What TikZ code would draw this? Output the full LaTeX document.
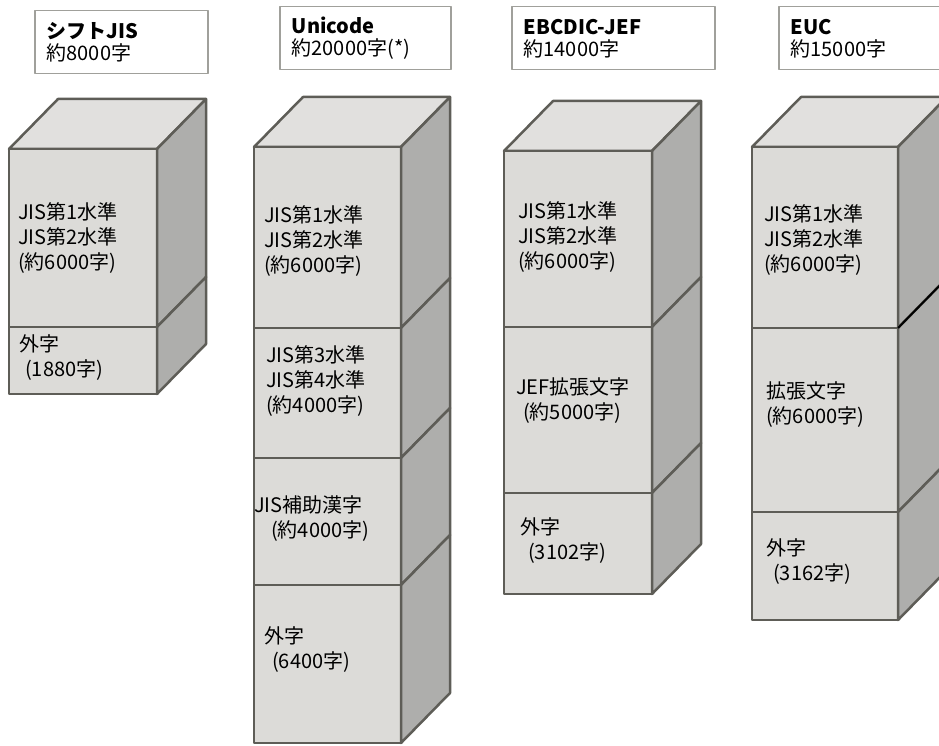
\documentclass[tikz,border=0pt]{standalone}
\usepackage{fontspec}
\setmainfont{Noto Sans CJK JP}
\usetikzlibrary{calc,positioning}
\definecolor{edge}{RGB}{94,93,87}
\definecolor{frontface}{RGB}{220,219,216}
\definecolor{topface}{RGB}{225,224,222}
\definecolor{sideface}{RGB}{174,174,172}
\definecolor{frame}{RGB}{160,160,155}

% one layer of a column: left x, right x, upper y, lower y
\newcommand{\slab}[4]{%
  \draw[face, fill=frontface] (#1,#3) rectangle (#2,#4);
  \draw[face, fill=sideface] (#2,#3) -- ++(49,-50) -- (#2+49,#4-50) -- (#2,#4) -- cycle;}
% lid of a column: left x, right x, upper y
\newcommand{\lid}[3]{%
  \draw[face, fill=topface] (#1,#3) -- ++(49,-50) -- (#2+49,#3-50) -- (#2,#3) -- cycle;}

\begin{document}
\begin{tikzpicture}[x=1pt, y=-1pt, line join=round,
  face/.style={draw=edge, line width=2.5pt},
  txt/.style={anchor=west, align=left, inner sep=0pt, font=\fontsize{20}{25}\selectfont},
  head/.style={draw=frame, line width=1.5pt, fill=white, anchor=north west, align=left,
    inner xsep=12pt, inner ysep=0pt, minimum height=63pt, font=\fontsize{20}{22}\selectfont}]
\useasboundingbox (0,0) rectangle (939,746);
\clip (0,0) rectangle (939,746);

% Headings
\node [head, text width=149pt] (sjisHead) at (34,10) {\textbf{シフトJIS}\\約8000字};
\node [head, text width=147pt] (uniHead) at (279,6) {\textbf{Unicode}\\約20000字(*)};
\node [head, text width=179pt] (jefHead) at (511,6) {\textbf{EBCDIC-JEF}\\約14000字};
\node [head, text width=176pt] (eucHead) at (778,6) {\textbf{EUC}\\約15000字};

% Shift JIS column
\lid{9}{157}{149}
\slab{9}{157}{149}{327}
\slab{9}{157}{327}{394}
\node [txt] (sjisLevel) at (18,238) {JIS第1水準\\JIS第2水準\\(約6000字)};
\node [txt] (sjisGaiji) at (19,358) {外字\\\hspace{6pt}(1880字)};

% Unicode column
\lid{254}{401}{147}
\slab{254}{401}{147}{328}
\slab{254}{401}{328}{458}
\slab{254}{401}{458}{585}
\slab{254}{401}{585}{743}
\node [txt] (uniLevel) at (264,241) {JIS第1水準\\JIS第2水準\\(約6000字)};
\node [txt] (uniLevelB) at (266,381) {JIS第3水準\\JIS第4水準\\(約4000字)};
\node [txt] (uniHojo) at (254,519) {JIS補助漢字\\\hspace{17pt}(約4000字)};
\node [txt] (uniGaiji) at (264,650) {外字\\\hspace{8pt}(6400字)};

% EBCDIC-JEF column
\lid{504}{652}{151}
\slab{504}{652}{151}{327}
\slab{504}{652}{327}{493}
\slab{504}{652}{493}{594}
\node [txt] (jefLevel) at (518,237) {JIS第1水準\\JIS第2水準\\(約6000字)};
\node [txt] (jefExt) at (516,401) {JEF拡張文字\\\hspace{7pt}(約5000字)};
\node [txt] (jefGaiji) at (520,541) {外字\\\hspace{8pt}(3102字)};

% EUC column
\lid{752}{898}{147}
\slab{752}{898}{147}{328}
\slab{752}{898}{328}{512}
\slab{752}{898}{512}{620}
\draw[black, line width=2pt] (898,328) -- ++(49,-50);
\node [txt] (eucLevel) at (764,240) {JIS第1水準\\JIS第2水準\\(約6000字)};
\node [txt] (eucExt) at (766,405) {拡張文字\\(約6000字)};
\node [txt] (eucGaiji) at (766,562) {外字\\\hspace{7pt}(3162字)};
\end{tikzpicture}
\end{document}
